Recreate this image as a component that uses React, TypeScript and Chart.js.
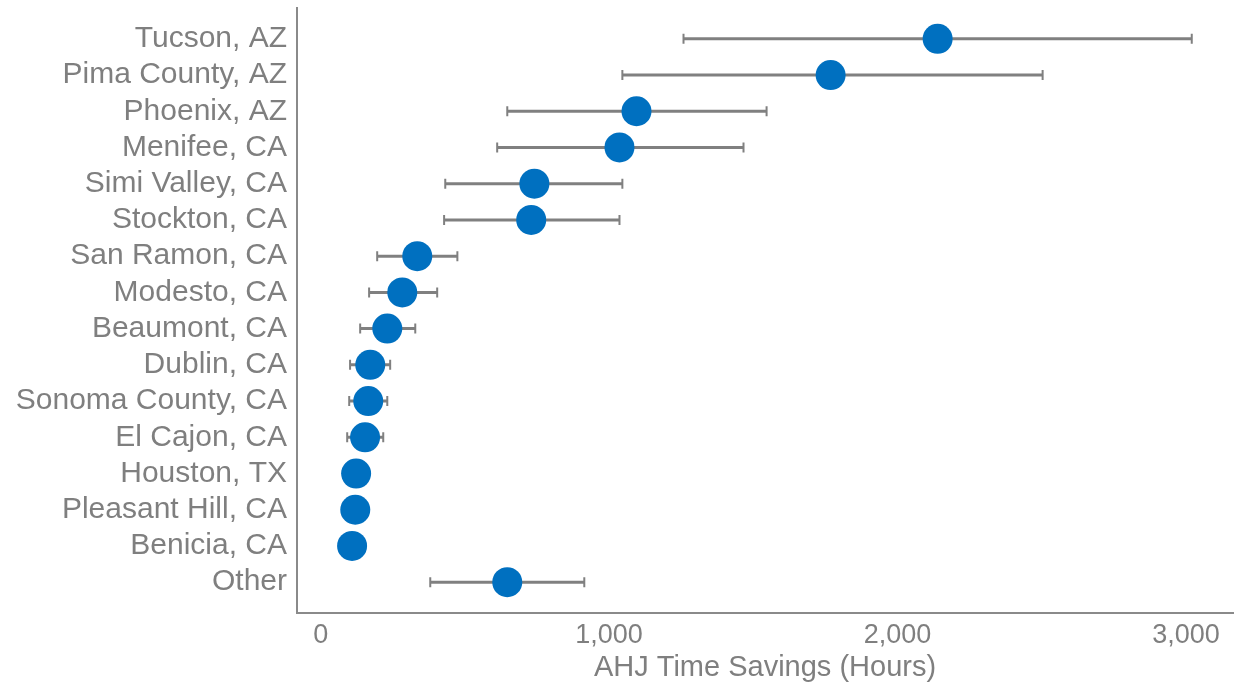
import React, { useEffect, useRef } from "react";
import { Chart, registerables } from "chart.js";

Chart.register(...registerables);

const categories = [
  "Tucson, AZ",
  "Pima County, AZ",
  "Phoenix, AZ",
  "Menifee, CA",
  "Simi Valley, CA",
  "Stockton, CA",
  "San Ramon, CA",
  "Modesto, CA",
  "Beaumont, CA",
  "Dublin, CA",
  "Sonoma County, CA",
  "El Cajon, CA",
  "Houston, TX",
  "Pleasant Hill, CA",
  "Benicia, CA",
  "Other",
];

const savings = [2139, 1768, 1095, 1036, 741, 730, 335, 283, 231, 172, 165, 154, 123, 120, 109, 647];
const lowerBound: (number | null)[] = [1258, 1046, 647, 612, 432, 428, 196, 168, 137, 102, 99, 92, null, null, null, 380];
const upperBound: (number | null)[] = [3020, 2503, 1546, 1466, 1046, 1036, 474, 404, 328, 241, 231, 217, null, null, null, 914];

const xTicks = [0, 1000, 2000, 3000];
const xTitle = "AHJ Time Savings (Hours)";

const GRAY = "#7f7f7f";
const BLUE = "#0070c0";

const errorBarPlugin = {
  id: "errorBars",
  beforeDatasetsDraw(chart: any) {
    const { ctx, scales } = chart;
    const xs = scales.x;
    const ys = scales.y;
    ctx.save();
    ctx.strokeStyle = "#808080";
    for (let i = 0; i < categories.length; i++) {
      const lo = lowerBound[i];
      const hi = upperBound[i];
      if (lo == null || hi == null) continue;
      const y = ys.getPixelForValue(i + 1);
      const x1 = xs.getPixelForValue(lo);
      const x2 = xs.getPixelForValue(hi);
      ctx.lineWidth = 3;
      ctx.beginPath();
      ctx.moveTo(x1, y);
      ctx.lineTo(x2, y);
      ctx.stroke();
      ctx.lineWidth = 2;
      ctx.beginPath();
      ctx.moveTo(x1, y - 5);
      ctx.lineTo(x1, y + 5);
      ctx.moveTo(x2, y - 5);
      ctx.lineTo(x2, y + 5);
      ctx.stroke();
    }
    ctx.restore();
  },
};

export default function App() {
  const canvasRef = useRef<HTMLCanvasElement | null>(null);

  useEffect(() => {
    if (!canvasRef.current) return;
    const chart = new Chart(canvasRef.current, {
      type: "scatter",
      data: {
        datasets: [
          {
            data: savings.map((v, i) => ({ x: v, y: i + 1 })),
            backgroundColor: BLUE,
            borderWidth: 0,
            pointRadius: 15,
            pointHoverRadius: 15,
            clip: false,
          },
        ],
      },
      plugins: [errorBarPlugin],
      options: {
        animation: false,
        responsive: false,
        events: [],
        layout: { autoPadding: false, padding: { top: 8, right: 3, left: 0, bottom: 0 } },
        plugins: {
          legend: { display: false },
          tooltip: { enabled: false },
        },
        scales: {
          x: {
            type: "linear",
            min: -82,
            max: 3163,
            grid: { display: false, drawTicks: false },
            border: { display: true, color: "#8a8a8a", width: 2 },
            afterBuildTicks: (scale: any) => {
              scale.ticks = xTicks.map((v) => ({ value: v }));
            },
            afterFit: (scale: any) => {
              scale.height = 74;
              scale.paddingLeft = 0;
              scale.paddingRight = 0;
            },
            ticks: {
              color: GRAY,
              padding: 6,
              maxRotation: 0,
              autoSkip: false,
              font: { family: "'Liberation Sans', Arial, sans-serif", size: 27 },
              callback: (v: any) => Number(v).toLocaleString("en-US"),
            },
            title: {
              display: true,
              text: xTitle,
              color: GRAY,
              padding: { top: 0, bottom: 2 },
              font: { family: "'Liberation Sans', Arial, sans-serif", size: 29 },
            },
          },
          y: {
            type: "linear",
            reverse: true,
            min: 0.15,
            max: 16.85,
            grid: { display: false, drawTicks: false },
            border: { display: true, color: "#8a8a8a", width: 2 },
            afterBuildTicks: (scale: any) => {
              scale.ticks = categories.map((_, i) => ({ value: i + 1 }));
            },
            afterFit: (scale: any) => {
              scale.width = 297;
              scale.paddingTop = 0;
              scale.paddingBottom = 0;
            },
            ticks: {
              color: GRAY,
              padding: 10,
              autoSkip: false,
              font: { family: "'Liberation Sans', Arial, sans-serif", size: 30 },
              callback: (v: any) => categories[Math.round(Number(v)) - 1] ?? "",
            },
          },
        },
      },
    });
    return () => chart.destroy();
  }, []);

  return (
    <canvas
      ref={canvasRef}
      width={1236}
      height={687}
      style={{ position: "fixed", left: 0, top: 0, display: "block", background: "#fff" }}
    />
  );
}
